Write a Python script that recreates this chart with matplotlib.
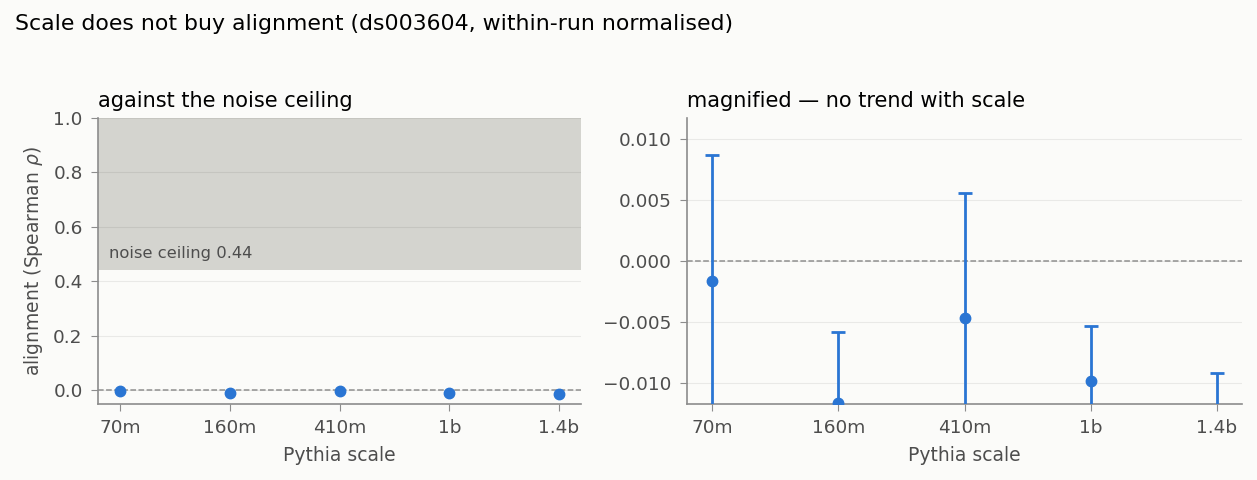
import matplotlib
matplotlib.use("Agg")
import matplotlib.pyplot as plt

scales = ["70m", "160m", "410m", "1b", "1.4b"]
rho = [-0.0016, -0.0116, -0.0047, -0.0098, -0.0135]
rho_err = [0.0103, 0.0058, 0.0103, 0.0045, 0.0043]
noise_ceiling = 0.44

BLUE = "#2a75d3"
BG = "#fbfbf9"
TXT = "#4d4d4d"
SPINE = "#8c8c8c"

plt.rcParams["font.family"] = ["DejaVu Sans"]
plt.rcParams["axes.edgecolor"] = SPINE
plt.rcParams["xtick.color"] = SPINE
plt.rcParams["ytick.color"] = SPINE
plt.rcParams["xtick.labelcolor"] = TXT
plt.rcParams["ytick.labelcolor"] = TXT

fig = plt.figure(figsize=(12.57, 4.8), dpi=100, facecolor=BG)
ax1 = fig.add_axes([98 / 1257, 1 - 404 / 480, 483 / 1257, 286 / 480])
ax2 = fig.add_axes([687 / 1257, 1 - 404 / 480, 555 / 1257, 286 / 480])

x = list(range(len(scales)))

for ax in (ax1, ax2):
    ax.set_facecolor(BG)
    ax.spines["top"].set_visible(False)
    ax.spines["right"].set_visible(False)
    ax.spines["left"].set_linewidth(1.2)
    ax.spines["bottom"].set_linewidth(1.2)
    ax.grid(axis="y", color="black", alpha=0.07, linewidth=0.8, zorder=1)
    ax.axhline(0, color="#8f8f8f", linestyle="--", linewidth=1.1, zorder=2)
    ax.set_xticks(x)
    ax.set_xticklabels(scales)
    ax.set_xlim(-0.2, 4.2)
    ax.tick_params(labelsize=13.3, length=5, pad=6)
    ax.set_xlabel("Pythia scale", fontsize=13.5, color=TXT, labelpad=6)

# left: against noise ceiling
ax1.axhspan(noise_ceiling, 1.0, color="#d4d4cf", zorder=0, linewidth=0)
ax1.text(-0.1, noise_ceiling + 0.035, f"noise ceiling {noise_ceiling:.2f}",
         fontsize=11.8, color=TXT, va="bottom", ha="left")
ax1.plot(x, rho, "o", color=BLUE, markersize=7.5, zorder=3)
ax1.set_ylim(-0.051, 1.0)
ax1.set_yticks([0.0, 0.2, 0.4, 0.6, 0.8, 1.0])
ax1.set_ylabel(r"alignment (Spearman $\rho$)", fontsize=13.5, color=TXT, labelpad=6)
ax1.set_title("against the noise ceiling", loc="left", fontsize=15, pad=8)

# right: magnified
ax2.errorbar(x, rho, yerr=rho_err, fmt="o", color=BLUE, markersize=7.5,
             elinewidth=2, capsize=5, capthick=2, zorder=3)
ax2.set_ylim(-0.0117, 0.0117)
ax2.set_yticks([-0.010, -0.005, 0.0, 0.005, 0.010])
ax2.set_yticklabels(["\u22120.010", "\u22120.005", "0.000", "0.005", "0.010"])
ax2.set_title("magnified \u2014 no trend with scale", loc="left", fontsize=15, pad=8)

fig.text(15 / 1257, 1 - 24 / 480, "Scale does not buy alignment (ds003604, within-run normalised)",
         fontsize=15.8, va="center", ha="left")

fig.savefig("out.png", dpi=100, facecolor=BG)
